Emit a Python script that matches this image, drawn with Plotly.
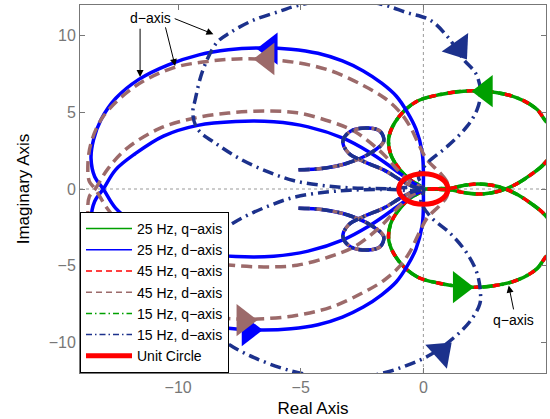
import plotly.graph_objects as go

# ---------------- data ----------------
X_RANGE = [-14, 5]
Y_RANGE = [-12, 12]
X_TICKS = [-10, -5, 0, 5]
Y_TICKS = [-10, -5, 0, 5, 10]

# q-axis locus (identical for 25 Hz, 45 Hz and 15 Hz)
Q_X = [0.0, 0.6, 1.17, 1.6, 2.2, 2.8, 3.35, 3.85, 4.4, 4.9, 5.3, 5.45, 5.3, 4.98, 4.64, 3.82, 2.73, 1.64, 0.69, -0.26,
       -1.0, -1.4, -1.34, -0.95, -0.53, 0.0,
       -0.53, -0.95, -1.34, -1.4, -1.0, -0.26, 0.69, 1.64, 2.73, 3.82, 4.64, 4.98, 5.3, 5.45, 5.3, 4.9, 4.4, 3.85,
       3.35, 2.8, 2.2, 1.6, 1.17, 0.6, 0.0]
Q_Y = [0.0, -0.02, -0.06, -0.22, -0.33, -0.24, 0.0, 0.38, 0.95, 1.6, 2.5, 3.3, 4.0, 4.45, 5.18, 5.95, 6.34, 6.38, 6.16, 5.72,
       4.7, 3.43, 2.3, 1.25, 0.59, 0.0,
       -0.59, -1.25, -2.3, -3.43, -4.7, -5.72, -6.16, -6.38, -6.34, -5.95, -5.18, -4.45, -4.0, -3.3, -2.5, -1.6, -0.95, -0.38,
       0.0, 0.24, 0.33, 0.22, 0.06, 0.02, 0.0]

# 25 Hz d-axis locus
D25_X = [0.0, 0.0, -0.05, -0.3, -0.65, -1.1, -1.7, -2.45, -3.3, -4.3, -5.4, -6.6, -7.95, -9.15, -10.4, -11.6, -12.55,
         -13.15, -13.45, -13.55, -13.4, -13.05,
         -12.55, -11.75, -10.6, -9.2, -7.65, -6.1, -4.7, -3.25, -2.25, -1.5, -0.95, -0.42, 0.0,
         -0.42, -0.95, -1.5, -2.25, -3.25, -4.7, -6.1, -7.65, -9.2, -10.6, -11.75, -12.55, -13.05,
         -13.4, -13.55, -13.45, -13.15, -12.55, -11.6, -10.4, -9.15, -7.95, -6.6, -5.4, -4.3, -3.3, -2.45, -1.7, -1.1,
         -0.65, -0.3, -0.05, 0.0, 0.0]
D25_Y = [0.0, 1.2, 2.4, 3.9, 5.0, 6.05, 6.9, 7.7, 8.35, 8.85, 9.12, 9.2, 9.08, 8.75, 8.1, 7.15, 5.9,
         4.5, 3.2, 2.0, 0.8, 0.0,
         -1.25, -2.3, -3.45, -4.15, -4.4, -4.38, -4.05, -3.3, -2.45, -1.65, -1.0, -0.4, 0.0,
         0.4, 1.0, 1.65, 2.45, 3.3, 4.05, 4.38, 4.4, 4.15, 3.45, 2.3, 1.25, 0.0,
         -0.8, -2.0, -3.2, -4.5, -5.9, -7.15, -8.1, -8.75, -9.08, -9.2, -9.12, -8.85, -8.35, -7.7, -6.9, -6.05,
         -5.0, -3.9, -2.4, -1.2, 0.0]

# 45 Hz d-axis locus
D45_X = [1.0, 0.95, 0.65, 0.15, -0.2, -0.55, -1.0, -1.6, -2.45, -3.75, -5.2, -6.75, -7.95, -9.0, -10.2, -11.75,
         -13.05, -13.55, -13.68, -13.62, -13.38,
         -12.85, -12.05, -10.75, -9.4, -7.95, -6.5, -5.15, -3.8, -2.8, -1.65, -1.0, -0.45, 0.0,
         -0.45, -1.0, -1.65, -2.8, -3.8, -5.15, -6.5, -7.95, -9.4, -10.75, -12.05, -12.85, -13.38,
         -13.62, -13.68, -13.55, -13.05, -11.75, -10.2, -9.0, -7.95, -6.75, -5.2, -3.75, -2.45, -1.6, -1.0, -0.55,
         -0.2, 0.15, 0.65, 0.95, 1.0]
D45_Y = [0.0, 0.5, 1.1, 1.9, 2.95, 4.1, 5.1, 5.95, 6.75, 7.7, 8.25, 8.48, 8.45, 8.28, 7.9, 6.7,
         4.74, 3.0, 1.5, 0.5, 0.0,
         -1.35, -2.7, -3.95, -4.6, -4.95, -5.08, -4.97, -4.4, -3.75, -2.3, -1.15, -0.4, 0.0,
         0.4, 1.15, 2.3, 3.75, 4.4, 4.97, 5.08, 4.95, 4.6, 3.95, 2.7, 1.35, 0.0,
         -0.5, -1.5, -3.0, -4.74, -6.7, -7.9, -8.28, -8.45, -8.48, -8.25, -7.7, -6.75, -5.95, -5.1, -4.1,
         -2.95, -1.9, -1.1, -0.5, 0.0]

# 15 Hz d-axis locus
D15_X = [0.0, -1.5, -3.0, -4.2, -5.3, -6.3, -7.4, -8.4, -9.2, -9.4, -9.3, -8.98, -8.42, -7.88, -6.94, -5.84, -5.16,
         -3.5, -1.76, -0.67, 0.29, 1.0, 1.63, 2.15, 2.33, 2.19, 1.78, 0.97, 0.15, -0.2, 0.0,
         -1.5, -3.0, -4.2, -5.3, -6.3, -7.4, -8.4, -9.2, -9.4, -9.3, -8.98, -8.42, -7.76, -6.9, -5.84, -4.9,
         -3.4, -1.76, -0.67, 0.3, 1.24, 1.92, 2.3, 2.33, 2.19, 1.78, 1.1, 0.29, -0.1, 0.0]
D15_Y = [0.0, 0.02, 0.08, 0.25, 0.55, 1.1, 1.9, 2.9, 3.9, 4.9, 5.84, 7.8, 9.55, 10.2, 11.0, 11.6, 11.95,
         12.4, 12.07, 11.5, 11.0, 9.9, 8.46, 7.5, 6.3, 5.18, 4.08, 2.77, 1.68, 0.8, 0.0,
         -0.02, -0.08, -0.25, -0.55, -1.1, -1.9, -2.9, -3.9, -4.9, -5.84, -7.8, -9.55, -10.3, -11.0, -11.65, -12.05,
         -12.4, -12.05, -11.5, -10.8, -9.7, -8.6, -7.5, -6.8, -5.5, -4.2, -2.9, -1.8, -0.8, 0.0]

# small loops shared by the d-axis loci
LOOP_UP_X = [-5.09, -4.07, -3.11, -2.16, -1.62, -1.76, -2.3, -2.98, -3.28, -3.05, -2.44, -1.62, -0.94, -0.4, 0.0]
LOOP_UP_Y = [1.25, 1.35, 1.68, 2.34, 3.1, 3.76, 3.98, 3.76, 3.1, 2.34, 1.8, 1.25, 0.59, 0.15, 0.0]
LOOP_LO_X = [-5.09, -4.07, -3.11, -2.16, -1.62, -1.76, -2.3, -2.98, -3.28, -3.05, -2.44, -1.62, -0.94, -0.4, 0.0]
LOOP_LO_Y = [-1.25, -1.35, -1.68, -2.34, -3.1, -3.76, -3.98, -3.76, -3.1, -2.34, -1.8, -1.25, -0.59, -0.15, 0.0]

# direction arrows (centroid positions and pointing angle, degrees clockwise from up)
ARR_Q_X, ARR_Q_Y, ARR_Q_A = [2.54, 1.49], [6.38, -6.4], [-90, 90]
ARR_D25_X, ARR_D25_Y, ARR_D25_A = [-6.23, -7.12], [9.15, -9.2], [-90, 90]
ARR_D45_X, ARR_D45_Y, ARR_D45_A = [-6.36, -7.33], [8.48, -8.55], [-90, 90]
ARR_D15_X, ARR_D15_Y, ARR_D15_A = [1.45, 0.73], [9.2, -10.63], [145, 48]

UNIT_RADIUS = 1.0

SERIES = ["25 Hz, q\u2212axis", "25 Hz, d\u2212axis", "45 Hz, q\u2212axis",
          "45 Hz, d\u2212axis", "15 Hz, q\u2212axis", "15 Hz, d\u2212axis", "Unit Circle"]

GREEN = "#00a000"
BLUE = "#0000ff"
RED = "#ff0000"
BROWN = "#9c6a6a"
NAVY = "#1c318c"
GRAY = "#777777"
FONT = "Liberation Sans, Arial, sans-serif"


def with_loops(xs, ys):
    return (xs + [None] + LOOP_UP_X + [None] + LOOP_LO_X,
            ys + [None] + LOOP_UP_Y + [None] + LOOP_LO_Y)


fig = go.Figure()

# q-axis loci (drawn first, d-axis loci drawn over them)
for col, dash in [(GREEN, None), (GREEN, "14px,5px,2px,5px"), (RED, "7px,12px")]:
    fig.add_trace(go.Scatter(x=Q_X, y=Q_Y, mode="lines", showlegend=False, hoverinfo="skip",
                             line=dict(color=col, width=3.5, dash=dash, shape="spline", smoothing=1.0)))

for xs, ys, col, dash in [(D25_X, D25_Y, BLUE, None),
                          (D45_X, D45_Y, BROWN, "11px,6px"),
                          (D15_X, D15_Y, NAVY, "11px,5px,2px,5px")]:
    px, py = with_loops(xs, ys)
    fig.add_trace(go.Scatter(x=px, y=py, mode="lines", showlegend=False, hoverinfo="skip",
                             line=dict(color=col, width=3.5, dash=dash, shape="spline", smoothing=1.0)))

for ax, ay, aa, col in [(ARR_Q_X, ARR_Q_Y, ARR_Q_A, GREEN),
                        (ARR_D25_X, ARR_D25_Y, ARR_D25_A, BLUE),
                        (ARR_D45_X, ARR_D45_Y, ARR_D45_A, BROWN),
                        (ARR_D15_X, ARR_D15_Y, ARR_D15_A, NAVY)]:
    fig.add_trace(go.Scatter(x=ax, y=ay, mode="markers", showlegend=False, hoverinfo="skip",
                             marker=dict(symbol="triangle-up", size=28, angle=aa, color=col,
                                         line=dict(width=0))))

# legend-only entries
leg_styles = [(GREEN, "solid", 1.5), (BLUE, "solid", 1.5), (RED, "6px,4px", 1.5),
              (BROWN, "6px,4px", 1.5), (GREEN, "6px,3px,1.5px,3px", 1.5),
              (NAVY, "6px,3px,1.5px,3px", 1.5), (RED, "solid", 5)]
for name, (col, dash, w) in zip(SERIES, leg_styles):
    fig.add_trace(go.Scatter(x=[None], y=[None], mode="lines", name=name,
                             line=dict(color=col, dash=dash, width=w)))

# zero lines (dotted)
fig.add_shape(type="line", xref="x", yref="paper", x0=0, x1=0, y0=0, y1=1,
              line=dict(color="#999999", width=1, dash="dot"), layer="below")
fig.add_shape(type="line", xref="paper", yref="y", x0=0, x1=1, y0=0, y1=0,
              line=dict(color="#999999", width=1, dash="dot"), layer="below")
# unit circle
fig.add_shape(type="circle", xref="x", yref="y", x0=-UNIT_RADIUS, x1=UNIT_RADIUS,
              y0=-UNIT_RADIUS, y1=UNIT_RADIUS, line=dict(color=RED, width=5), layer="above")

# annotations
ann_font = dict(family=FONT, size=14, color="black")
fig.add_annotation(x=-11.14, y=11.15, text="d\u2212axis", showarrow=False, font=ann_font)
for (hx, hy, tx, ty) in [(-11.55, 7.3, -11.55, 10.55), (-10.12, 8.02, -10.53, 10.64), (-8.56, 10.1, -10.2, 11.15)]:
    fig.add_annotation(x=hx, y=hy, ax=tx, ay=ty, xref="x", yref="y", axref="x", ayref="y",
                       text="", showarrow=True, arrowhead=2, arrowsize=1.4, arrowwidth=1, arrowcolor="black")
fig.add_annotation(x=3.69, y=-8.55, text="q\u2212axis", showarrow=False, font=ann_font)
fig.add_annotation(x=3.48, y=-6.3, ax=3.69, ay=-7.95, xref="x", yref="y", axref="x", ayref="y",
                   text="", showarrow=True, arrowhead=2, arrowsize=1.4, arrowwidth=1, arrowcolor="black")

axis_common = dict(showgrid=False, zeroline=False, showline=True, mirror="ticks", linecolor=GRAY, linewidth=1,
                   ticks="inside", ticklen=5, tickcolor=GRAY, automargin=False,
                   tickfont=dict(family=FONT, size=16, color=GRAY))
fig.update_xaxes(range=X_RANGE, tickvals=X_TICKS, title=dict(text="Real Axis", standoff=6,
                 font=dict(family=FONT, size=17, color="black")), **axis_common)
fig.update_yaxes(range=Y_RANGE, tickvals=Y_TICKS, title=dict(text="Imaginary Axis", standoff=14,
                 font=dict(family=FONT, size=17, color="black")), **axis_common)

fig.update_layout(
    width=550, height=419,
    margin=dict(l=80, r=4, t=5, b=46),
    plot_bgcolor="white", paper_bgcolor="white",
    font=dict(family=FONT),
    legend=dict(x=0, y=0, xanchor="left", yanchor="bottom", bgcolor="white", bordercolor="black",
                borderwidth=1, font=dict(family=FONT, size=14, color="black"), tracegroupgap=0,
                itemwidth=46),
)

fig.write_html("out.html", config={"displayModeBar": False},
               post_script="document.body.style.margin='0';document.body.style.overflow='hidden';")
